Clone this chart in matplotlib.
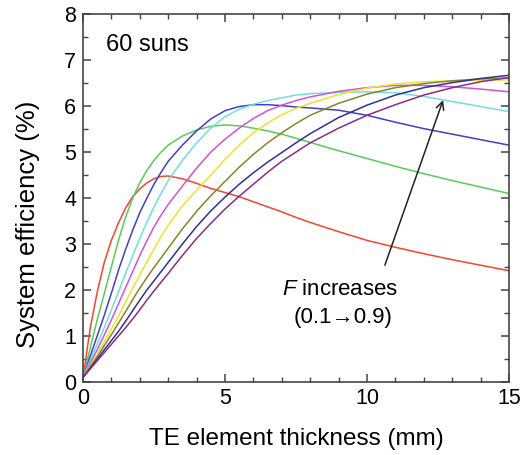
import numpy as np
import matplotlib
matplotlib.use("Agg")
import matplotlib.pyplot as plt

plt.rcParams['font.family'] = ['Liberation Sans', 'DejaVu Sans']
plt.rcParams['mathtext.fontset'] = 'custom'
plt.rcParams['mathtext.it'] = 'Liberation Sans:italic'
plt.rcParams['mathtext.rm'] = 'Liberation Sans'

# TE element thickness (mm)
thickness = [0, 0.1, 0.25, 0.5, 0.75, 1, 1.25, 1.5, 1.75, 2, 2.25, 2.5, 2.75, 3, 3.5, 4,
             4.5, 5, 5.5, 6, 6.5, 7, 7.5, 8, 9, 10, 11, 12, 13, 14, 15]

# system efficiency (%) at 60 suns, F = 0.1 ... 0.9
eff_f01 = [0.1, 0.5, 1.15, 1.95, 2.6, 3.08, 3.46, 3.78, 4.03, 4.2, 4.33, 4.42, 4.47, 4.48, 4.42, 4.32,
           4.21, 4.12, 4.03, 3.92, 3.81, 3.7, 3.58, 3.47, 3.27, 3.08, 2.93, 2.79, 2.66, 2.54, 2.42]
eff_f02 = [0.1, 0.35, 0.72, 1.35, 1.92, 2.5, 3.08, 3.58, 4.0, 4.33, 4.6, 4.82, 5.0, 5.15, 5.35, 5.48,
           5.56, 5.59, 5.57, 5.52, 5.46, 5.39, 5.3, 5.21, 5.03, 4.86, 4.69, 4.53, 4.38, 4.24, 4.1]
eff_f03 = [0.1, 0.28, 0.55, 1.0, 1.45, 1.93, 2.43, 2.88, 3.3, 3.68, 4.0, 4.3, 4.56, 4.8, 5.15, 5.46,
           5.72, 5.9, 5.99, 6.03, 6.03, 6.01, 5.98, 5.96, 5.91, 5.8, 5.65, 5.51, 5.39, 5.27, 5.15]
eff_f04 = [0.1, 0.25, 0.46, 0.82, 1.18, 1.57, 1.96, 2.36, 2.75, 3.12, 3.48, 3.8, 4.1, 4.38, 4.82, 5.2,
           5.52, 5.77, 5.93, 6.04, 6.12, 6.18, 6.24, 6.27, 6.3, 6.31, 6.29, 6.21, 6.1, 5.99, 5.88]
eff_f05 = [0.1, 0.22, 0.4, 0.7, 1.02, 1.35, 1.7, 2.05, 2.4, 2.75, 3.07, 3.37, 3.63, 3.86, 4.26, 4.65,
           5.0, 5.28, 5.52, 5.73, 5.9, 6.02, 6.12, 6.2, 6.32, 6.4, 6.45, 6.45, 6.42, 6.37, 6.31]
eff_f06 = [0.1, 0.2, 0.35, 0.6, 0.87, 1.15, 1.43, 1.74, 2.04, 2.33, 2.61, 2.89, 3.16, 3.41, 3.83, 4.17,
           4.5, 4.84, 5.15, 5.42, 5.63, 5.81, 5.95, 6.06, 6.25, 6.39, 6.48, 6.53, 6.55, 6.56, 6.57]
eff_f07 = [0.1, 0.19, 0.32, 0.55, 0.79, 1.03, 1.28, 1.53, 1.79, 2.04, 2.27, 2.49, 2.7, 2.91, 3.33, 3.71,
           4.05, 4.36, 4.67, 4.95, 5.2, 5.42, 5.62, 5.8, 6.06, 6.26, 6.4, 6.49, 6.55, 6.59, 6.61]
eff_f08 = [0.1, 0.18, 0.3, 0.5, 0.7, 0.9, 1.1, 1.32, 1.55, 1.78, 2.0, 2.2, 2.4, 2.6, 3.0, 3.38,
           3.72, 4.02, 4.3, 4.55, 4.78, 4.99, 5.2, 5.4, 5.75, 6.02, 6.24, 6.4, 6.51, 6.6, 6.67]
eff_f09 = [0.1, 0.17, 0.28, 0.46, 0.64, 0.82, 1.0, 1.18, 1.37, 1.57, 1.78, 1.98, 2.17, 2.36, 2.75, 3.12,
           3.45, 3.76, 4.04, 4.3, 4.56, 4.8, 5.0, 5.2, 5.52, 5.8, 6.03, 6.24, 6.4, 6.53, 6.62]

series = [eff_f01, eff_f02, eff_f03, eff_f04, eff_f05, eff_f06, eff_f07, eff_f08, eff_f09]
colors = ["#f5452d", "#5cc95a", "#4040c8", "#72dede", "#d055d0",
          "#ece42a", "#85852a", "#303099", "#862c8c"]

fig = plt.figure(figsize=(5.25, 4.55), dpi=100)
ax = fig.add_axes([0.158, 0.1604, 0.8115, 0.8086])

for y, c in zip(series, colors):
    ax.plot(thickness, y, color=c, lw=1.1)

ax.set_xlim(0, 15)
ax.set_ylim(0, 8)
ax.set_xticks([0, 5, 10, 15])
ax.set_xticks(np.arange(0, 16, 1), minor=True)
ax.set_yticks(np.arange(0, 9, 1))
ax.set_yticks(np.arange(0, 8.5, 0.5), minor=True)
ax.tick_params(which='both', direction='in', top=True, right=True,
               labelsize=15.5, color='#444444')
ax.tick_params(which='major', length=6, width=1.1)
ax.tick_params(which='minor', length=3.5, width=1.0)
ax.tick_params(axis='x', pad=4)
ax.tick_params(axis='y', pad=5)
for s in ax.spines.values():
    s.set_color('#444444')
    s.set_linewidth(1.2)

ax.set_xlabel("TE element thickness (mm)", fontsize=17.5, labelpad=14)
ax.set_ylabel("System efficiency (%)", fontsize=18.5, labelpad=17)
ax.yaxis.label.set_y(0.43)

ax.text(0.8, 7.33, "60 suns", fontsize=17, va='center', ha='left')
ax.text(9.05, 2.02, "$F$ increases", fontsize=16, ha='center', va='center')
ax.text(9.15, 1.41, "(0.1\u21920.9)", fontsize=16, ha='center', va='center')
ax.annotate("", xy=(12.68, 6.13), xytext=(10.63, 2.54),
            arrowprops=dict(arrowstyle='->', color='#222222', lw=1.1,
                            mutation_scale=14, shrinkA=0, shrinkB=0))

fig.savefig("out.png", dpi=100)
